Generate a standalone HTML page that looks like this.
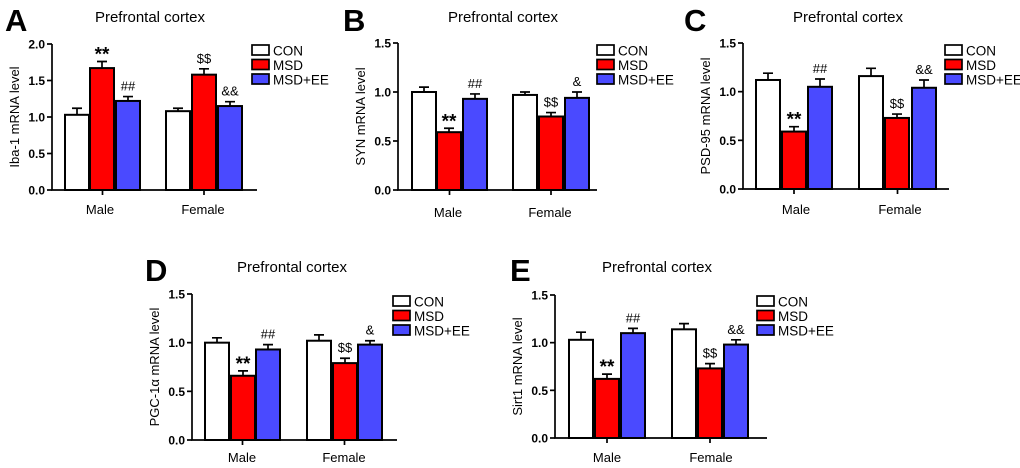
<!DOCTYPE html>
<html><head><meta charset="utf-8"><style>
html,body{margin:0;padding:0;background:#fff;}
svg{display:block;font-family:"Liberation Sans",Arial,sans-serif;}
</style></head><body>
<svg id="fig" width="1020" height="468" viewBox="0 0 1020 468"></svg>
<script>
const groups = ["Male","Female"];
const seriesNames = ["CON","MSD","MSD+EE"];
const colors = ["#ffffff","#ff0000","#4a4aff"];
const valsA = [[1.03,1.67,1.22],[1.08,1.58,1.15]];
const errsA = [[0.09,0.09,0.06],[0.04,0.08,0.06]];
const valsB = [[1.00,0.59,0.93],[0.97,0.75,0.94]];
const errsB = [[0.05,0.04,0.05],[0.03,0.04,0.06]];
const valsC = [[1.12,0.59,1.05],[1.16,0.73,1.04]];
const errsC = [[0.07,0.05,0.08],[0.08,0.04,0.08]];
const valsD = [[1.00,0.66,0.93],[1.02,0.79,0.98]];
const errsD = [[0.05,0.05,0.05],[0.06,0.05,0.04]];
const valsE = [[1.03,0.62,1.10],[1.14,0.73,0.98]];
const errsE = [[0.08,0.05,0.05],[0.06,0.05,0.05]];
const ticksA = [0,0.5,1.0,1.5,2.0];
const ticks15 = [0,0.5,1.0,1.5];
const sigA = [["","**","##"],["","$$","&&"]];
const sigB = [["","**","##"],["","$$","&"]];
const sigC = [["","**","##"],["","$$","&&"]];
const sigD = [["","**","##"],["","$$","&"]];
const sigE = [["","**","##"],["","$$","&&"]];

const NS="http://www.w3.org/2000/svg";
const svg=document.getElementById('fig');
function mk(tag,attrs,parent,text){const e=document.createElementNS(NS,tag);for(const k in attrs)e.setAttribute(k,attrs[k]);if(text!==undefined)e.textContent=text;(parent||svg).appendChild(e);return e;}

const panels=[
 {id:"a",letter:"A",lx:5,ly:31,ax:52,y0:190,ytop:44,ymax:2.0,xend:257,bars:[[65,90,116],[166,192,218]],bw:24,title:150,ty:22,legx:252,legy:45,ytitle:"Iba-1 mRNA level",gl:[100,203],gy:214,vals:valsA,errs:errsA,ticks:ticksA,sig:sigA},
 {id:"b",letter:"B",lx:343,ly:31,ax:398,y0:190,ytop:43,ymax:1.5,xend:597,bars:[[412,437,463],[513,539,565]],bw:24,title:503,ty:22,legx:597,legy:45,ytitle:"SYN mRNA level",gl:[448,550],gy:217,vals:valsB,errs:errsB,ticks:ticks15,sig:sigB},
 {id:"c",letter:"C",lx:684,ly:31,ax:743,y0:189,ytop:43,ymax:1.5,xend:949,bars:[[756,782,808],[859,885,912]],bw:24,title:848,ty:22,legx:945,legy:45,ytitle:"PSD-95 mRNA level",gl:[796,900],gy:214,vals:valsC,errs:errsC,ticks:ticks15,sig:sigC},
 {id:"d",letter:"D",lx:145,ly:281,ax:192,y0:440,ytop:294,ymax:1.5,xend:397,bars:[[205,231,256],[307,333,358]],bw:24,title:292,ty:272,legx:393,legy:296,ytitle:"PGC-1α mRNA level",gl:[242,344],gy:462,vals:valsD,errs:errsD,ticks:ticks15,sig:sigD},
 {id:"e",letter:"E",lx:510,ly:281,ax:555,y0:438,ytop:295,ymax:1.5,xend:767,bars:[[569,595,621],[672,698,724]],bw:24,title:657,ty:272,legx:757,legy:296,ytitle:"Sirt1 mRNA level",gl:[607,711],gy:462,vals:valsE,errs:errsE,ticks:ticks15,sig:sigE}
];

panels.forEach(p=>{
 const g=mk('g',{});
 
 
 const yS=v=>p.y0-(v/p.ymax)*(p.y0-p.ytop);
 const L=mk('text',{x:p.lx,y:p.ly,'font-size':31,'font-weight':'bold'},g,p.letter);
  
 const T=mk('text',{x:p.title,y:p.ty,'font-size':15,'text-anchor':'middle'},g,"Prefrontal cortex");
  
 p.vals.forEach((row,gi)=>{
  row.forEach((v,si)=>{
   const x=p.bars[gi][si], y=yS(v), ye=yS(v+p.errs[gi][si]), cx=x+p.bw/2;
   const eb=mk('path',{d:`M${cx} ${y}V${ye}M${cx-5} ${ye}H${cx+5}`,stroke:'#000','stroke-width':1.7,fill:'none'},g);
    
   const r=mk('rect',{x:x,y:y,width:p.bw,height:p.y0-y,fill:colors[si],stroke:'#000','stroke-width':2},g);
   
   
   const s=p.sig[gi][si];
   if(s){
    const st=mk('text',{x:cx,y:ye-(s==="**"?1:6),'font-size':s==="**"?19:13,'font-weight':s==="**"?'bold':'normal','text-anchor':'middle'},g,s);
     
   }
  });
 });
 const ax=mk('path',{d:`M${p.ax} ${p.ytop}V${p.y0}H${p.xend}`,stroke:'#000','stroke-width':1.7,fill:'none'},g);
  
 p.ticks.forEach(t=>{
  const y=yS(t);
  mk('line',{x1:p.ax-5,x2:p.ax,y1:y,y2:y,stroke:'#000','stroke-width':1.7},g);
  const tl=mk('text',{x:p.ax-7,y:y+4.5,'font-size':12,'font-weight':'bold','text-anchor':'end'},g,t.toFixed(1));
   
 });
 groups.forEach((gn,gi)=>{
  const cx=(p.bars[gi][0]+p.bars[gi][2]+p.bw)/2;
  mk('line',{x1:cx,x2:cx,y1:p.y0,y2:p.y0+5,stroke:'#000','stroke-width':1.7},g);
  const xl=mk('text',{x:p.gl[gi],y:p.gy,'font-size':13,'text-anchor':'middle'},g,gn);
   
 });
 const yt=mk('text',{x:0,y:0,'font-size':13,'text-anchor':'middle',transform:`translate(${p.ax-33},${(p.ytop+p.y0)/2}) rotate(-90)`},g,p.ytitle);
  
 seriesNames.forEach((n,si)=>{
  const y=p.legy+si*14.5;
  const le=mk('g',{},g);
   
  mk('rect',{x:p.legx,y:y,width:17,height:10,fill:colors[si],stroke:'#000','stroke-width':1.7},le);
  mk('text',{x:p.legx+21,y:y+10.5,'font-size':13.5},le,n);
 });
});
</script>
</body></html>
